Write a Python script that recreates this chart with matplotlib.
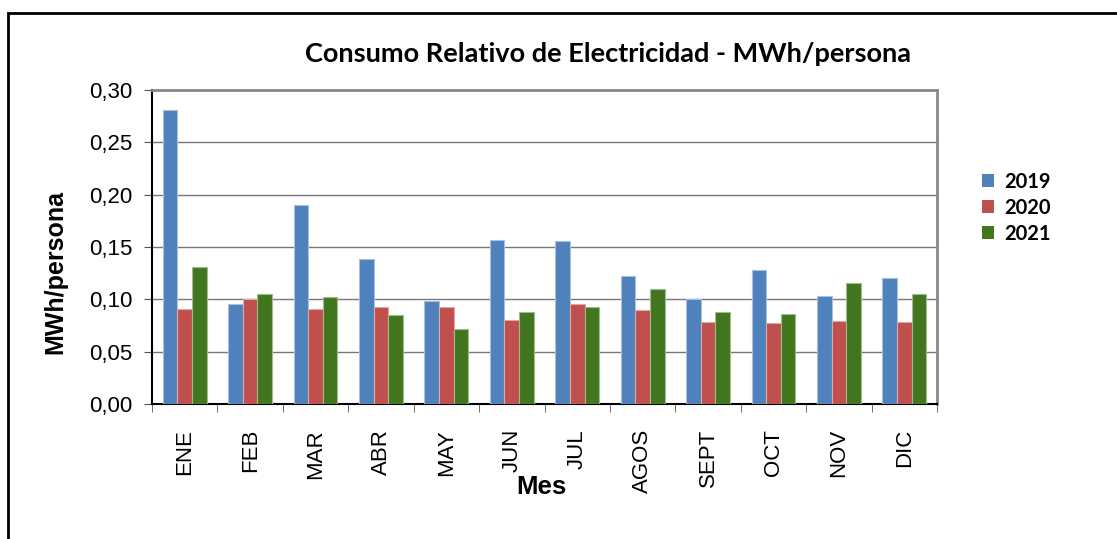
import numpy as np
import matplotlib.pyplot as plt
from matplotlib.patches import Rectangle
from matplotlib.ticker import FuncFormatter, MultipleLocator

# datos
meses = ['ENE', 'FEB', 'MAR', 'ABR', 'MAY', 'JUN', 'JUL', 'AGOS', 'SEPT', 'OCT', 'NOV', 'DIC']
anios = ['2019', '2020', '2021']
consumo_2019 = [0.281, 0.096, 0.190, 0.139, 0.098, 0.157, 0.156, 0.122, 0.100, 0.128, 0.103, 0.120]
consumo_2020 = [0.091, 0.100, 0.091, 0.093, 0.093, 0.080, 0.096, 0.090, 0.078, 0.077, 0.079, 0.078]
consumo_2021 = [0.131, 0.105, 0.102, 0.085, 0.072, 0.088, 0.093, 0.110, 0.088, 0.086, 0.116, 0.105]

colores = ['#4F81BD', '#C0504D', '#41761E']
bordes = ['#A7C0DE', '#E0A8A6', '#A0BB8F']

fig = plt.figure(figsize=(11.17, 5.39), dpi=100)
ax = fig.add_axes([152 / 1117, 1 - 404 / 539, (937 - 152) / 1117, (404 - 90) / 539])

# marco exterior
fig.patches.append(Rectangle((8 / 1117, -0.1), 1.2, 1 - 13 / 539 + 0.1, transform=fig.transFigure,
                             fill=False, edgecolor='black', linewidth=2, zorder=0))

x = np.arange(len(meses))
ancho = 0.223
series = [consumo_2019, consumo_2020, consumo_2021]
for i, valores in enumerate(series):
    ax.bar(x + (i - 1) * ancho, valores, width=ancho, color=colores[i],
           edgecolor=bordes[i], linewidth=0.8, label=anios[i], zorder=3)

ax.set_xlim(-0.5, len(meses) - 0.5)
ax.set_ylim(0, 0.30)
ax.yaxis.set_major_locator(MultipleLocator(0.05))
ax.yaxis.set_major_formatter(FuncFormatter(lambda v, p: f'{v:.2f}'.replace('.', ',')))
ax.grid(axis='y', color='#777777', linewidth=1, zorder=0)

ax.set_xticks(x)
ax.set_xticklabels(meses, rotation=90, fontfamily='Liberation Sans', fontsize=16)
ax.set_xticks(np.arange(-0.5, len(meses)), minor=True)
ax.tick_params(axis='x', which='major', length=0, pad=18)
ax.tick_params(axis='x', which='minor', length=6, direction='out', color='#555555')
ax.tick_params(axis='y', length=6, direction='out', labelsize=16, pad=8, color='#555555')
for lab in ax.get_yticklabels():
    lab.set_fontfamily('Liberation Sans')

for lado in ['top', 'right']:
    ax.spines[lado].set_color('#888888')
    ax.spines[lado].set_linewidth(2)
for lado in ['left', 'bottom']:
    ax.spines[lado].set_color('black')
    ax.spines[lado].set_linewidth(1.5)

fig.text(608 / 1117, 1 - 54 / 539, 'Consumo Relativo de Electricidad - MWh/persona',
         ha='center', va='center', fontsize=19.5, fontweight='bold', fontfamily='Lato')
fig.text(55 / 1117, 1 - 272 / 539, 'MWh/persona', rotation=90, ha='center', va='center',
         fontsize=18, fontweight='bold', fontfamily='Liberation Sans')
fig.text(541 / 1117, 1 - 487 / 539, 'Mes', ha='center', va='center',
         fontsize=18.5, fontweight='bold', fontfamily='Liberation Sans')

leg = ax.legend(loc='center left', bbox_to_anchor=(1.034, 0.625), frameon=False,
                prop={'family': 'Lato', 'weight': 'bold', 'size': 14.5},
                handlelength=0.6, handleheight=0.6, handletextpad=0.5, labelspacing=0.3)
for h in leg.legend_handles:
    h.set_edgecolor('none')

fig.savefig('out.png', dpi=100)
